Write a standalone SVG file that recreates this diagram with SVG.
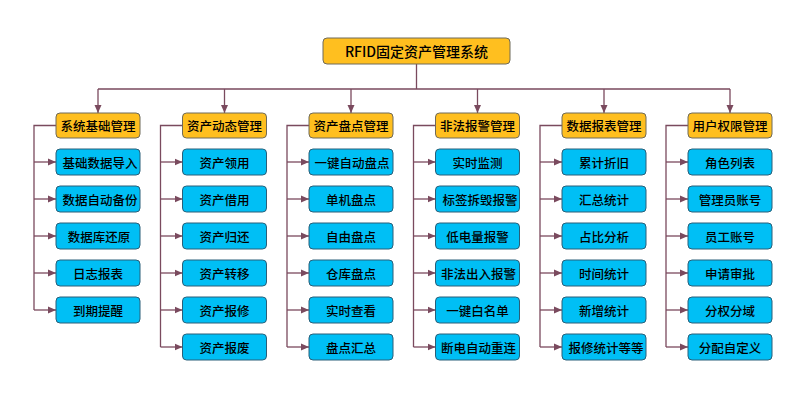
<svg xmlns="http://www.w3.org/2000/svg" width="798" height="400" viewBox="0 0 798 400">
<style>
.t{font-family:"Noto Sans CJK SC","Microsoft YaHei",sans-serif;font-size:12.5px;font-weight:500;fill:#000;text-anchor:middle;dominant-baseline:central}
.top{fill:#FFBF1F;stroke:#6E6A5A;stroke-width:1}
.cat{fill:#FFBF1F;stroke:#6E6A5A;stroke-width:1}
.leaf{fill:#00BFF5;stroke:#2A5F78;stroke-width:1}
.ln{fill:none;stroke:#7A4A5E;stroke-width:1.3}
</style>
<defs>
<marker id="ah" viewBox="0 0 8 8" refX="8" refY="4" markerWidth="8" markerHeight="8" markerUnits="userSpaceOnUse" orient="auto">
<path d="M0,0.5 L8,4 L0,7.5 Z" fill="#7A4A5E"/>
</marker>
</defs>
<g id="connectors">
<path class="ln" d="M416.5,64 V89 M98,89 H730"/>
<path class="ln" marker-end="url(#ah)" d="M98,89 V113"/>
<path class="ln" marker-end="url(#ah)" d="M224.5,89 V113"/>
<path class="ln" marker-end="url(#ah)" d="M351,89 V113"/>
<path class="ln" marker-end="url(#ah)" d="M477.5,89 V113"/>
<path class="ln" marker-end="url(#ah)" d="M604,89 V113"/>
<path class="ln" marker-end="url(#ah)" d="M730,89 V113"/>
<path class="ln" d="M56,125.5 H34 V310"/>
<path class="ln" d="M182.5,125.5 H160.5 V347"/>
<path class="ln" d="M309,125.5 H287 V347"/>
<path class="ln" d="M435.5,125.5 H413.5 V347"/>
<path class="ln" d="M562,125.5 H540 V347"/>
<path class="ln" d="M688,125.5 H666 V347"/>
<g marker-end="url(#ah)">
<path class="ln" d="M34,162 H56"/><path class="ln" d="M34,199 H56"/><path class="ln" d="M34,236 H56"/><path class="ln" d="M34,273 H56"/><path class="ln" d="M34,310 H56"/>
<path class="ln" d="M160.5,162 H182.5"/><path class="ln" d="M160.5,199 H182.5"/><path class="ln" d="M160.5,236 H182.5"/><path class="ln" d="M160.5,273 H182.5"/><path class="ln" d="M160.5,310 H182.5"/><path class="ln" d="M160.5,347 H182.5"/>
<path class="ln" d="M287,162 H309"/><path class="ln" d="M287,199 H309"/><path class="ln" d="M287,236 H309"/><path class="ln" d="M287,273 H309"/><path class="ln" d="M287,310 H309"/><path class="ln" d="M287,347 H309"/>
<path class="ln" d="M413.5,162 H435.5"/><path class="ln" d="M413.5,199 H435.5"/><path class="ln" d="M413.5,236 H435.5"/><path class="ln" d="M413.5,273 H435.5"/><path class="ln" d="M413.5,310 H435.5"/><path class="ln" d="M413.5,347 H435.5"/>
<path class="ln" d="M540,162 H562"/><path class="ln" d="M540,199 H562"/><path class="ln" d="M540,236 H562"/><path class="ln" d="M540,273 H562"/><path class="ln" d="M540,310 H562"/><path class="ln" d="M540,347 H562"/>
<path class="ln" d="M666,162 H688"/><path class="ln" d="M666,199 H688"/><path class="ln" d="M666,236 H688"/><path class="ln" d="M666,273 H688"/><path class="ln" d="M666,310 H688"/><path class="ln" d="M666,347 H688"/>
</g>
</g>
<g id="root"><rect class="top" x="323" y="38" width="187" height="26" rx="4"/><text class="t" x="416.5" y="51" style="font-size:14px">RFID固定资产管理系统</text></g>

<g id="c1"><rect class="cat" x="56" y="113" width="84" height="25" rx="4"/><text class="t" x="98" y="125.5">系统基础管理</text></g>
<g id="c1n1"><rect class="leaf" x="56" y="149" width="84" height="26" rx="4"/><text class="t" x="100" y="162">基础数据导入</text></g>
<g id="c1n2"><rect class="leaf" x="56" y="186" width="84" height="26" rx="4"/><text class="t" x="100" y="199">数据自动备份</text></g>
<g id="c1n3"><rect class="leaf" x="56" y="223" width="84" height="26" rx="4"/><text class="t" x="99" y="236">数据库还原</text></g>
<g id="c1n4"><rect class="leaf" x="56" y="260" width="84" height="26" rx="4"/><text class="t" x="98" y="273">日志报表</text></g>
<g id="c1n5"><rect class="leaf" x="56" y="297" width="84" height="26" rx="4"/><text class="t" x="98" y="310">到期提醒</text></g>

<g id="c2"><rect class="cat" x="182.5" y="113" width="84" height="25" rx="4"/><text class="t" x="224.5" y="125.5">资产动态管理</text></g>
<g id="c2n1"><rect class="leaf" x="182.5" y="149" width="84" height="26" rx="4"/><text class="t" x="224.5" y="162">资产领用</text></g>
<g id="c2n2"><rect class="leaf" x="182.5" y="186" width="84" height="26" rx="4"/><text class="t" x="224.5" y="199">资产借用</text></g>
<g id="c2n3"><rect class="leaf" x="182.5" y="223" width="84" height="26" rx="4"/><text class="t" x="224.5" y="236">资产归还</text></g>
<g id="c2n4"><rect class="leaf" x="182.5" y="260" width="84" height="26" rx="4"/><text class="t" x="224.5" y="273">资产转移</text></g>
<g id="c2n5"><rect class="leaf" x="182.5" y="297" width="84" height="26" rx="4"/><text class="t" x="224.5" y="310">资产报修</text></g>
<g id="c2n6"><rect class="leaf" x="182.5" y="334" width="84" height="26" rx="4"/><text class="t" x="224.5" y="347">资产报废</text></g>

<g id="c3"><rect class="cat" x="309" y="113" width="84" height="25" rx="4"/><text class="t" x="351" y="125.5">资产盘点管理</text></g>
<g id="c3n1"><rect class="leaf" x="309" y="149" width="84" height="26" rx="4"/><text class="t" x="352" y="162">一键自动盘点</text></g>
<g id="c3n2"><rect class="leaf" x="309" y="186" width="84" height="26" rx="4"/><text class="t" x="351" y="199">单机盘点</text></g>
<g id="c3n3"><rect class="leaf" x="309" y="223" width="84" height="26" rx="4"/><text class="t" x="351" y="236">自由盘点</text></g>
<g id="c3n4"><rect class="leaf" x="309" y="260" width="84" height="26" rx="4"/><text class="t" x="351" y="273">仓库盘点</text></g>
<g id="c3n5"><rect class="leaf" x="309" y="297" width="84" height="26" rx="4"/><text class="t" x="351" y="310">实时查看</text></g>
<g id="c3n6"><rect class="leaf" x="309" y="334" width="84" height="26" rx="4"/><text class="t" x="351" y="347">盘点汇总</text></g>

<g id="c4"><rect class="cat" x="435.5" y="113" width="84" height="25" rx="4"/><text class="t" x="477.5" y="125.5">非法报警管理</text></g>
<g id="c4n1"><rect class="leaf" x="435.5" y="149" width="84" height="26" rx="4"/><text class="t" x="477.5" y="162">实时监测</text></g>
<g id="c4n2"><rect class="leaf" x="435.5" y="186" width="84" height="26" rx="4"/><text class="t" x="480" y="199">标签拆毁报警</text></g>
<g id="c4n3"><rect class="leaf" x="435.5" y="223" width="84" height="26" rx="4"/><text class="t" x="477.5" y="236">低电量报警</text></g>
<g id="c4n4"><rect class="leaf" x="435.5" y="260" width="84" height="26" rx="4"/><text class="t" x="478.5" y="273">非法出入报警</text></g>
<g id="c4n5"><rect class="leaf" x="435.5" y="297" width="84" height="26" rx="4"/><text class="t" x="477.5" y="310">一键白名单</text></g>
<g id="c4n6"><rect class="leaf" x="435.5" y="334" width="84" height="26" rx="4"/><text class="t" x="478.5" y="347">断电自动重连</text></g>

<g id="c5"><rect class="cat" x="562" y="113" width="84" height="25" rx="4"/><text class="t" x="604" y="125.5">数据报表管理</text></g>
<g id="c5n1"><rect class="leaf" x="562" y="149" width="84" height="26" rx="4"/><text class="t" x="604" y="162">累计折旧</text></g>
<g id="c5n2"><rect class="leaf" x="562" y="186" width="84" height="26" rx="4"/><text class="t" x="604" y="199">汇总统计</text></g>
<g id="c5n3"><rect class="leaf" x="562" y="223" width="84" height="26" rx="4"/><text class="t" x="604" y="236">占比分析</text></g>
<g id="c5n4"><rect class="leaf" x="562" y="260" width="84" height="26" rx="4"/><text class="t" x="604" y="273">时间统计</text></g>
<g id="c5n5"><rect class="leaf" x="562" y="297" width="84" height="26" rx="4"/><text class="t" x="604" y="310">新增统计</text></g>
<g id="c5n6"><rect class="leaf" x="562" y="334" width="84" height="26" rx="4"/><text class="t" x="606" y="347">报修统计等等</text></g>

<g id="c6"><rect class="cat" x="688" y="113" width="84" height="25" rx="4"/><text class="t" x="730" y="125.5">用户权限管理</text></g>
<g id="c6n1"><rect class="leaf" x="688" y="149" width="84" height="26" rx="4"/><text class="t" x="730" y="162">角色列表</text></g>
<g id="c6n2"><rect class="leaf" x="688" y="186" width="84" height="26" rx="4"/><text class="t" x="730" y="199">管理员账号</text></g>
<g id="c6n3"><rect class="leaf" x="688" y="223" width="84" height="26" rx="4"/><text class="t" x="730" y="236">员工账号</text></g>
<g id="c6n4"><rect class="leaf" x="688" y="260" width="84" height="26" rx="4"/><text class="t" x="730" y="273">申请审批</text></g>
<g id="c6n5"><rect class="leaf" x="688" y="297" width="84" height="26" rx="4"/><text class="t" x="730" y="310">分权分域</text></g>
<g id="c6n6"><rect class="leaf" x="688" y="334" width="84" height="26" rx="4"/><text class="t" x="730" y="347">分配自定义</text></g>
</svg>
